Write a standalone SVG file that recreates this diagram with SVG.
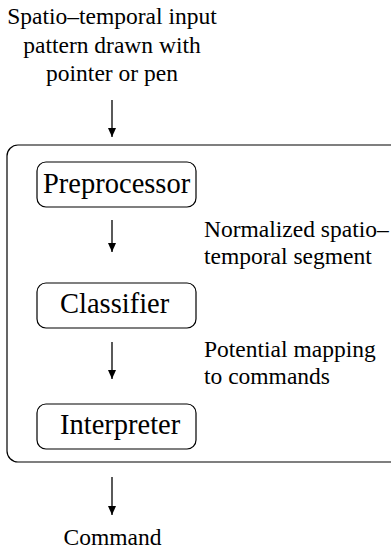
<svg xmlns="http://www.w3.org/2000/svg" width="391" height="550" viewBox="0 0 391 550">
<defs>
<style>
.box{fill:none;stroke:#000;stroke-width:1.2}
.conn line{stroke:#000;stroke-width:1.3}
</style>
<marker id="ah" markerUnits="userSpaceOnUse" markerWidth="10" markerHeight="17" refX="9" refY="4.5" orient="auto" viewBox="0 0 10 9">
<path d="M0,0.5 L9,4.5 L0,8.5 Z" fill="#000"/>
</marker>
</defs>
<g font-family="Liberation Serif" font-size="23.5">
<g id="input">
<text x="112" y="24" text-anchor="middle">Spatio–temporal input</text>
<text x="112" y="52.5" text-anchor="middle">pattern drawn with</text>
<text x="112" y="81" text-anchor="middle">pointer or pen</text>
</g>
<g id="system">
<rect class="box" x="7" y="145" width="420" height="317" rx="11"/>
</g>
<g id="preprocessor">
<rect class="box" x="37" y="162" width="159" height="45" rx="9"/>
<text x="43" y="193" font-size="28.5">Preprocessor</text>
</g>
<g id="classifier">
<rect class="box" x="37" y="283" width="159" height="45" rx="9"/>
<text x="60" y="313" font-size="28.5">Classifier</text>
</g>
<g id="interpreter">
<rect class="box" x="37" y="404" width="159" height="45" rx="9"/>
<text x="60" y="434" font-size="28.5">Interpreter</text>
</g>
<g id="label1">
<text x="204" y="237">Normalized spatio–</text>
<text x="204" y="264">temporal segment</text>
</g>
<g id="label2">
<text x="204" y="357">Potential mapping</text>
<text x="204" y="384">to commands</text>
</g>
<g id="command">
<text x="112.5" y="545" text-anchor="middle">Command</text>
</g>
</g>
<g class="conn" id="connectors">
<line x1="112" y1="100" x2="112" y2="137" marker-end="url(#ah)"/>
<line x1="112" y1="220" x2="112" y2="252" marker-end="url(#ah)"/>
<line x1="112" y1="342" x2="112" y2="379" marker-end="url(#ah)"/>
<line x1="112" y1="477" x2="112" y2="515" marker-end="url(#ah)"/>
</g>
</svg>
